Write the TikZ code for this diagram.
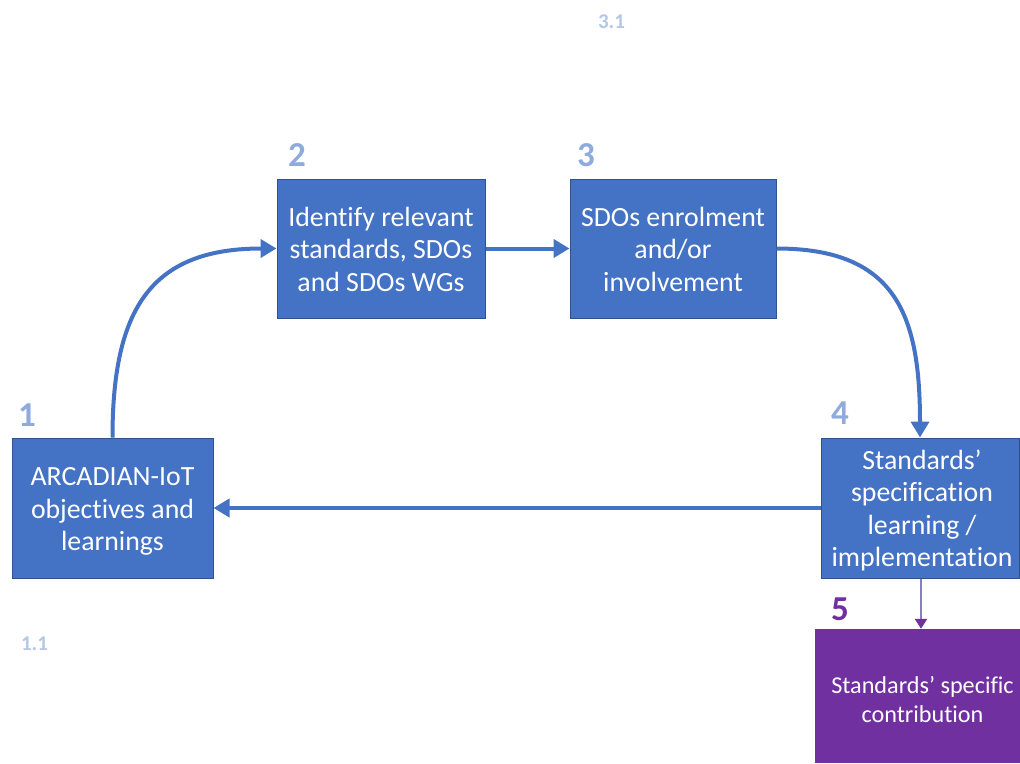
\documentclass[tikz,border=0pt]{standalone}
\usepackage{fontspec}
\setmainfont[Ligatures=NoCommon]{Carlito}
\usetikzlibrary{arrows.meta}
\definecolor{boxblue}{HTML}{4472C4}
\definecolor{boxborder}{HTML}{2F528F}
\definecolor{numblue}{HTML}{8FAADC}
\definecolor{paleblue}{HTML}{B4C7E7}
\definecolor{mypurple}{HTML}{7030A0}
\newcommand{\stagetext}[2]{\raisebox{-#1}[0pt][0pt]{\begin{tabular}{@{}c@{}}#2\end{tabular}}}
\tikzset{
  stagebox/.style={draw=boxborder, line width=1pt, fill=boxblue, text=white,
    inner sep=0pt, font=\fontsize{27.8}{32.5}\selectfont},
  contribbox/.style={fill=mypurple, text=white, inner sep=0pt,
    font=\fontsize{24.2}{29}\selectfont},
  numlabel/.style={text=numblue, font=\fontsize{35}{40}\selectfont\bfseries, inner sep=0pt},
  sublabel/.style={text=paleblue, font=\fontsize{21}{24}\selectfont\bfseries, inner sep=0pt},
  flow/.style={draw=boxblue, line width=4pt, -{Triangle[length=16pt,width=18pt]}},
  thinflow/.style={draw=numblue!65!mypurple, line width=2.5pt, -{Triangle[length=10pt,width=12pt,color=mypurple]}},
}
\begin{document}
\begin{tikzpicture}[x=1pt,y=-1pt]
\useasboundingbox (0,0) rectangle (1020,763);
\node[stagebox, minimum width=201pt, minimum height=140pt] (n1) at (112.5,508) {\stagetext{10pt}{ARCADIAN-IoT\\objectives and\\learnings}};
\node[stagebox, minimum width=208pt, minimum height=139pt] (n2) at (381,248.5) {\stagetext{10pt}{Identify relevant\\standards, SDOs\\and SDOs WGs}};
\node[stagebox, minimum width=206pt, minimum height=139pt] (n3) at (673,248.5) {\stagetext{10pt}{SDOs enrolment\\and/or\\involvement}};
\node[stagebox, minimum width=198pt, minimum height=140pt] (n4) at (920,508) {\hspace*{4pt}\stagetext{9.5pt}{Standards’\\specification\\learning /\\implementation}};
\node[contribbox, minimum width=215pt, minimum height=134pt] (n5) at (922.5,696) {\stagetext{12pt}{Standards’ specific\\contribution}};

\node[numlabel] (l1) at (27,415) {1};
\node[numlabel] (l2) at (297,155) {2};
\node[numlabel] (l3) at (586,155) {3};
\node[numlabel] (l4) at (840,413) {4};
\node[numlabel, text=mypurple] (l5) at (840,609) {5};
\node[sublabel] (l31) at (611.5,22) {3.1};
\node[sublabel] (l11) at (34.5,644) {1.1};

\draw[flow] (n1.north) to[out=90,in=180,looseness=1.3] (n2.west);
\draw[flow] (n2) -- (n3);
\draw[flow] (n3.east) to[out=0,in=90,looseness=1.3] (n4.north);
\draw[flow] (n4) -- (n1);
\draw[thinflow] (n4.south) ++(1,0) coordinate (t4) -- (t4 |- n5.north);
\end{tikzpicture}
\end{document}
